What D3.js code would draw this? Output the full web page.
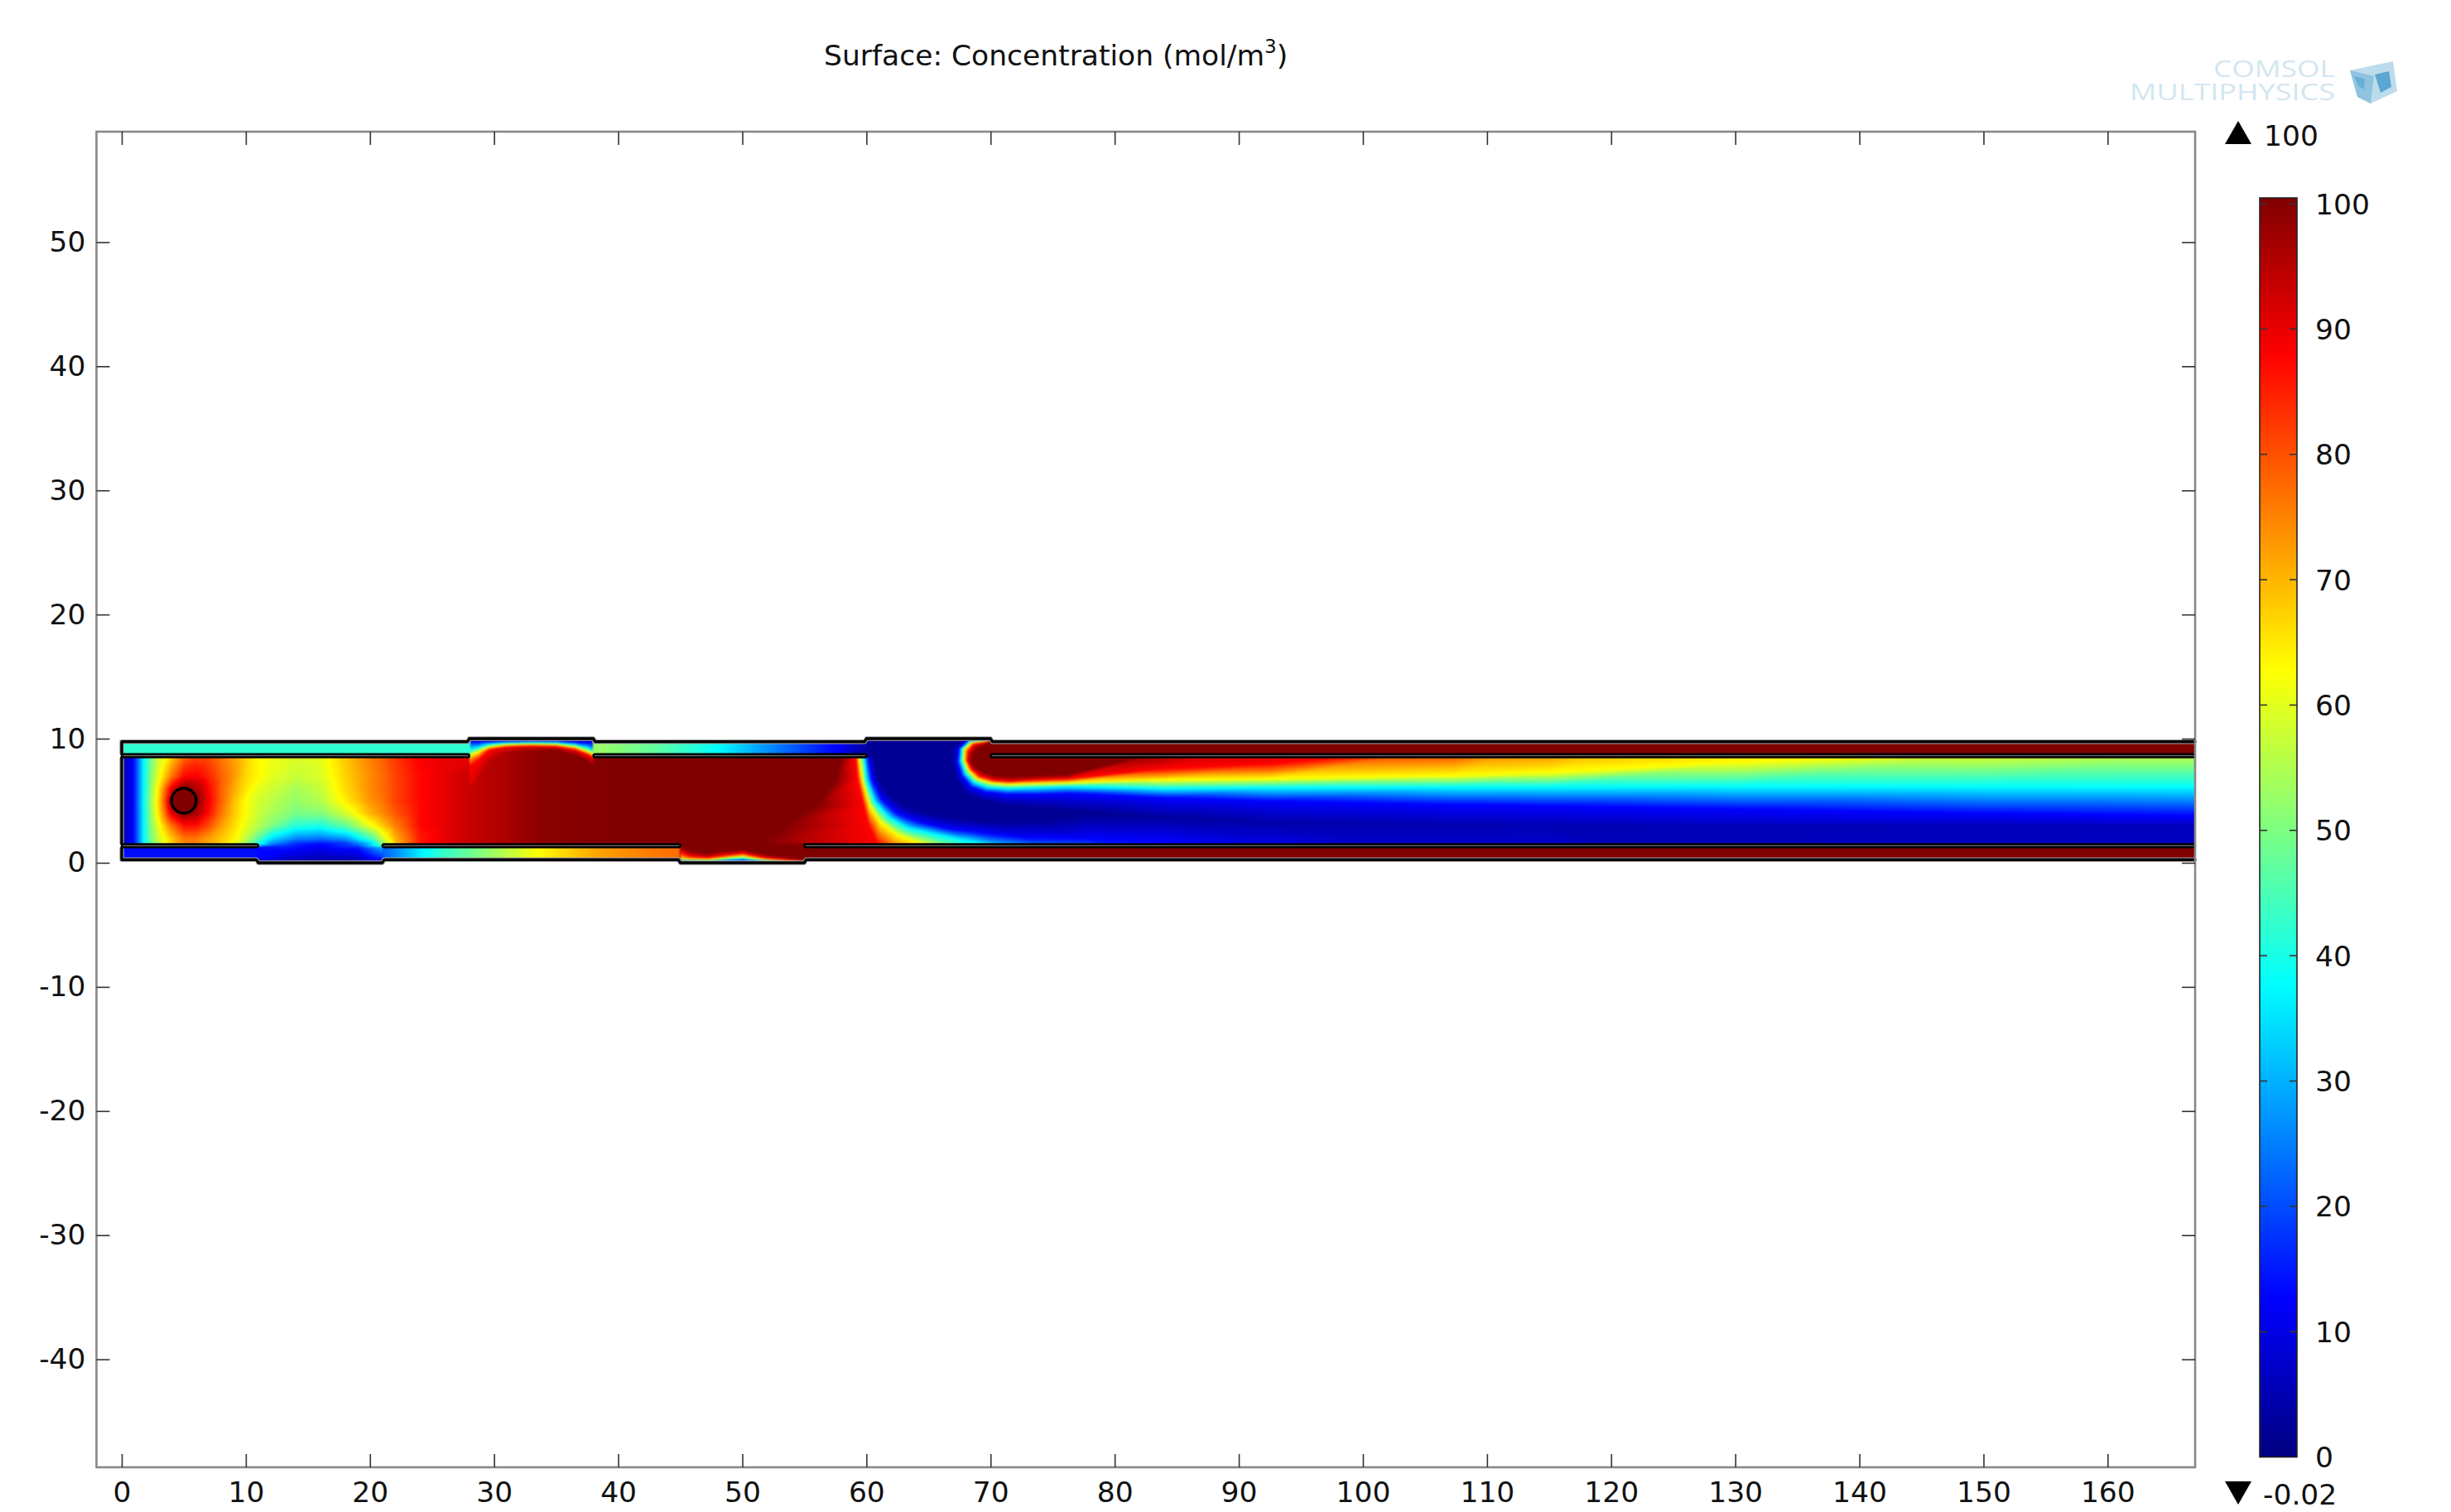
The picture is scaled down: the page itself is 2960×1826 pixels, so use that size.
<!DOCTYPE html>
<html><head><meta charset="utf-8">
<script src="https://cdn.jsdelivr.net/npm/d3@7"></script>
<style>html,body{margin:0;background:#fff}svg{display:block}text{font-family:"DejaVu Sans";fill:#111}</style>
</head><body><svg id="c" width="2960" height="1826"></svg>
<script>
// ---------- axis data ----------
const xTicks = d3.range(0, 161, 10);
const yTicks = d3.range(-40, 51, 10);
const barTicks = d3.range(0, 101, 10);
const titleText = "Surface: Concentration (mol/m";
const maxLabel = "100", minLabel = "-0.02";
// jet colour table
const jetStops = [0, 12.5, 37.5, 62.5, 87.5, 100];
const jetColors = ["#000080", "#0000ff", "#00ffff", "#ffff00", "#ff0000", "#800000"];

// ---------- field: left of main channel (values read at columns / rows) ----------
const leftCols = [0, .9, 1.75, 2.5, 3, 3.5, 4, 5, 6, 7, 8, 9, 10, 11, 12, 14, 16, 18, 20, 21, 22, 24, 26, 28, 30, 34, 40, 46, 52, 59.5];
const leftRows = [10.1, 8.5, 7, 6, 5, 4, 3, 2, 1.5];
const leftValues = [
 [4,12.5,37.5,52,58,62.5,68,78,81,80,76,72,67,63,61,59,60,68,75,78,82,88,90,90,95,99,100,100,100,100],
 [4,12.5,37.5,52,58,62.5,68,78,81,80,76,72,67,63,61,59,60,68,75,78,82,88,90,90,95,99,100,100,100,100],
 [4,12.5,37.5,54,61,69,76,87,88,84,78,73,66,63,60,57,59,67,74,77,81,87,90,93,95,99,100,100,100,100],
 [4,12.5,37.5,56,66,78,90,100,96,87,78,71,65,60,58,54,57,66,74,77,81,87,90,93,95,99,100,100,100,100],
 [4,12.5,38,57,68,82,100,100,100,88,78,69,62,58,56,52,55,64,73,76,81,87,90,93,95,99,100,100,100,100],
 [4,12.5,37.5,56,66,78,90,100,96,86,76,68,62,57,54,49,50,58,70,74,79,87,90,93,95,99,100,100,100,100],
 [4,12.5,37.5,54,61,69,76,86,86,80,72,66,60,55,50,41,40,47,61,68,75,87,90,93,95,99,100,100,100,100],
 [4,12.5,37.5,52,58,63,68,76,76,72,68,64,56,46,35,26,24,28,44,58,70,85,90,93,95,99,100,100,100,100],
 [4,12.5,37.5,51,57,62.5,67,74,74,71,66,61,52,38,25,15,12,15,30,50,68,86,90,93,95,99,100,100,100,100]
];
// lower gap 11..21
const gapACols = [11, 13, 16, 19, 21];
const gapARows = [1.5, 1.25, 1, .5, 0];
const gapAValues = [[38,20,12,22,50],[13,15,11,15,30],[13,12,10,12,26],[13,9,6,7,18],[8,3,2,3,5]];
// channels
const topLeftValue = 42, bottomLeftValue = 13.5, saturated = 100, darkCore = 2;
const topMidCols = [38, 43, 48, 53, 57.7, 60];
const topMidValues = [53, 47, 37.5, 24, 12, 3];
const bottomMidCols = [21, 22, 24.4, 26, 28, 33.5, 38, 42, 45];
const bottomMidValues = [22, 26, 37.5, 43, 48, 62.5, 71, 75, 77];

// iso-level meshes: rows of stations, each station lists the y of every level
const bumpLevels = [98, 87.5, 62.5, 37.5, 12.5, 3];
const bumpCols = [28, 28.7, 29.6, 31, 33, 35, 36.5, 37.5, 38];
const bumpBase = [90, 92, 94, 96, 98, 100, 100, 100, 100];
const bumpY = [
 [6.2,7.8,8.7,9.1,9.75,10.05],
 [7.0,8.3,8.96,9.3,9.75,10.05],
 [8.2,9.13,9.36,9.58,9.8,10.05],
 [8.9,9.36,9.53,9.69,9.84,10.05],
 [9.1,9.44,9.58,9.72,9.88,10.05],
 [9.1,9.4,9.55,9.7,9.85,10.05],
 [8.7,9.15,9.35,9.55,9.75,10.05],
 [8.2,8.75,9.0,9.3,9.7,10.05],
 [7.8,8.5,8.75,9.0,9.7,10.05]
];
const gapBLevels = [100, 87.5, 62.5, 37.5, 12.5, 2];
const gapBCols = [45, 45.8, 47.3, 48.5, 50, 51.8, 54.3, 55];
const gapBBase = [100, 100, 100, 100, 100, 100, 100, 100];
const gapBY = [
 [1.3,.9,.35,.25,.15,-.2],
 [1.0,.55,.28,.2,.1,-.2],
 [.75,.45,.28,.15,.05,-.2],
 [1.0,.62,.4,.28,.12,-.2],
 [1.1,.8,.55,.36,.2,-.1],
 [.7,.42,.28,.18,.08,-.2],
 [.4,.2,.12,.05,-.05,-.2],
 [.3,.12,.05,-.02,-.1,-.2]
];
// fronts: levels 100, 87.5, 62.5, 37.5, 12.5, core
const frontLevels = [100, 87.5, 62.5, 37.5, 12.5];
const upperFront = [
 [[69.87,9.69],[69.76,9.80],[69.87,9.89],[69.76,9.93],[69.54,9.98],[69.31,10.02]],
 [[69.09,9.36],[68.65,9.58],[68.42,9.73],[68.31,9.84],[68.2,9.91],[67.76,9.98]],
 [[68.54,8.8],[68.2,9.02],[67.87,9.13],[67.65,9.24],[67.43,9.24],[66.98,9.24]],
 [[68.42,8.25],[68.09,8.25],[67.87,8.25],[67.58,8.25],[67.31,8.13],[66.87,8.13]],
 [[68.76,7.69],[68.42,7.58],[68.2,7.47],[67.94,7.24],[67.65,7.02],[67.2,6.69]],
 [[69.54,7.24],[69.09,7.02],[68.87,6.8],[68.65,6.51],[68.42,6.13],[67.98,5.58]],
 [[70.43,7.02],[70.2,6.69],[69.98,6.47],[69.76,6.13],[69.54,5.73],[69.31,5.02]],
 [[71.76,6.96],[71.54,6.58],[71.31,6.36],[71.31,6.02],[71.31,5.53],[71.31,4.64]],
 [[73.31,7.02],[73.31,6.69],[73.09,6.4],[73.31,6.09],[73.54,5.53],[73.54,4.47]],
 [[76.2,7.13],[76.2,6.8],[76.2,6.47],[76.2,6.18],[76.2,5.62],[76.2,4.25]],
 [[84,9],[84,7.6],[84,6.7],[84,6],[84,5.25],[84,3.7]],
 [[92.5,10.5],[92.5,8],[92.5,6.8],[92.5,6.08],[92.5,5],[92.5,3.3]],
 [[107.3,13],[107.3,9.38],[107.3,7.06],[107.3,6.13],[107.3,4.7],[107.3,3]],
 [[115,14],[115,10.5],[115,7.3],[115,6.15],[115,4.6],[115,3]],
 [[130,16],[130,12.5],[130,8.13],[130,6.17],[130,4.35],[130,3]],
 [[150,18],[150,14],[150,9],[150,6.15],[150,4],[150,3]],
 [[168,20],[168,15],[168,9.5],[168,6.13],[168,3.8],[168,3]]
];
const upperCore = [2,2,2,2,2,2,2,2,2,2,3,4,4.5,5,6,6,6];
const lowerFront = [
 [[58,8.58],[59.09,8.58],[59.36,8.58],[59.76,8.58],[60.09,8.58],[60.54,8.58]],
 [[57.5,6.69],[59.27,6.69],[59.65,6.69],[59.98,6.69],[60.43,6.69],[60.98,6.69]],
 [[56,4.69],[59.76,4.58],[60.2,4.69],[60.65,4.91],[61.2,5.13],[61.87,5.47]],
 [[53.5,3.13],[60.2,2.91],[61.09,3.31],[61.76,3.69],[62.43,4.02],[63.09,4.58]],
 [[51.5,1.53],[60.87,1.53],[62.43,2.29],[63.31,2.8],[64.2,3.31],[64.98,4.02]],
 [[50.5,.7],[61.76,.7],[64.31,1.58],[65.31,2.36],[66.43,2.8],[67.31,3.58]],
 [[50,-.2],[63.31,-.2],[66.65,.7],[67.76,1.84],[68.87,2.51],[69.76,3.36]],
 [[50,-3],[62,-3],[66,-2],[71.31,1.13],[72.65,2.07],[73.3,3.36]],
 [[54,-4],[64,-4],[70,-3],[76,.6],[78,1.95],[78,3.9]],
 [[56,-6],[70,-6],[78,-5],[84,-.8],[84,1.7],[84,3.7]],
 [[60,-8],[80,-8],[88,-7],[92.5,-3],[92.5,.9],[92.5,3.3]],
 [[70,-10],[100,-10],[110,-9],[115,-6],[115,-1],[115,3]],
 [[168,-16],[168,-16],[168,-15],[168,-14],[168,-12],[168,3]]
];
const lowerCore = [2,2,2,2,2,2,2,2,2,3,4,5,6];

// ---------- device geometry (model units) ----------
const boundary = [[0,.25],[11,.25],[11,0],[21,0],[21,.25],[45,.25],[45,0],[55,0],[55,.25],[167.05,.25],[167.05,9.75],[70,9.75],[70,10],[60,10],[60,9.75],[38,9.75],[38,10],[28,10],[28,9.75],[0,9.75]];
const bottomWall = [[0,1.25],[0,.25],[10.85,.25],[11,0],[21,0],[21.15,.25],[44.85,.25],[45,0],[55,0],[55.15,.25],[167.05,.25]];
const topWall = [[0,8.75],[0,9.75],[27.85,9.75],[28,10],[38,10],[38.15,9.75],[59.85,9.75],[60,10],[70,10],[70.15,9.75],[167.05,9.75]];
const leftWall = [[0,1.5],[0,8.5]];
const membranes = [[0,28,8.5,8.75],[38,60,8.5,8.75],[70,168,8.5,8.75],[0,11,1.25,1.5],[21,45,1.25,1.5],[55,168,1.25,1.5]];
const cylinder = {cx:5, cy:5, r:1};

// ---------- layout ----------
const x = d3.scaleLinear().domain([-2.035, 167.05]).range([116.5, 2651]);
const y = d3.scaleLinear().domain([58.9, -48.7]).range([159, 1772]);
const barScale = d3.scaleLinear().domain([0, 100]).range([1759.6, 246]);
const jet = d3.scaleLinear().domain(jetStops).range(jetColors).clamp(true);
const fontSize = 34.5;

const W = 2960, H = 1826;
const cv = document.createElement("canvas"); cv.width = W; cv.height = H;
const cx = cv.getContext("2d");
const img = cx.createImageData(W, H), px = img.data;
const lut = d3.range(0, 1001).map(i => d3.rgb(jet(i / 10)));

function setPx(ix, iy, v) {
  const c = lut[Math.max(0, Math.min(1000, Math.round(v * 10)))], k = (iy * W + ix) * 4;
  px[k] = c.r; px[k + 1] = c.g; px[k + 2] = c.b; px[k + 3] = 255;
}
function tri(a, b, c, clip) {
  const minX = Math.max(Math.floor(Math.min(a[0], b[0], c[0])), clip[0]), maxX = Math.min(Math.ceil(Math.max(a[0], b[0], c[0])), clip[1]);
  const minY = Math.max(Math.floor(Math.min(a[1], b[1], c[1])), clip[2]), maxY = Math.min(Math.ceil(Math.max(a[1], b[1], c[1])), clip[3]);
  const d = (b[1] - c[1]) * (a[0] - c[0]) + (c[0] - b[0]) * (a[1] - c[1]);
  if (Math.abs(d) < 1e-6) return;
  for (let iy = minY; iy <= maxY; iy++) for (let ix = minX; ix <= maxX; ix++) {
    const l1 = ((b[1] - c[1]) * (ix - c[0]) + (c[0] - b[0]) * (iy - c[1])) / d;
    const l2 = ((c[1] - a[1]) * (ix - c[0]) + (a[0] - c[0]) * (iy - c[1])) / d;
    const l3 = 1 - l1 - l2;
    if (l1 < -.02 || l2 < -.02 || l3 < -.02) continue;
    setPx(ix, iy, l1 * a[2] + l2 * b[2] + l3 * c[2]);
  }
}
// nodes[i][j] = [modelX, modelY, value]
function paintMesh(nodes, box) {
  const clip = [Math.round(x(box[0])), Math.round(x(box[1])), Math.round(y(box[3])), Math.round(y(box[2]))];
  const P = nodes.map(r => r.map(n => [x(n[0]), y(n[1]), n[2]]));
  for (let i = 0; i < P.length - 1; i++) for (let j = 0; j < P[i].length - 1; j++) {
    tri(P[i][j], P[i + 1][j], P[i][j + 1], clip);
    tri(P[i + 1][j], P[i + 1][j + 1], P[i][j + 1], clip);
  }
}
const grid = (cols, rows, vals) => rows.map((r, j) => cols.map((c, i) => [c, r, vals[j][i]]));
const rectMesh = (x0, x1, y0, y1, v) => grid([x0, x1], [y0, y1], [[v, v], [v, v]]);
const stripMesh = (cols, y0, y1, vals) => grid(cols, [y0, y1], [vals, vals]);
const levelMesh = (cols, ys, levels, base) => ys.map((r, i) => r.map((yy, j) => [cols[i], yy, j === 0 ? base[i] : levels[j]]));
const frontMesh = (st, core) => st.map((r, i) => r.map((n, j) => [n[0], n[1], j < frontLevels.length ? frontLevels[j] : core[i]]));

const all = [-5, 170, -5, 25];
paintMesh(rectMesh(55, 168, 1.5, 10, darkCore), all);
paintMesh(grid(leftCols, leftRows, leftValues), [-5, 59.5, 1.5, 10.1]);
paintMesh(rectMesh(68.5, 90, 7, 10.1, saturated), all);
paintMesh(frontMesh(upperFront, upperCore), [60, 168, 1.5, 10.1]);
paintMesh(frontMesh(lowerFront, lowerCore), [50, 168, 1.5, 8.5]);
paintMesh(levelMesh(bumpCols, bumpY, bumpLevels, bumpBase), [28, 38, 1.5, 10.1]);
paintMesh(rectMesh(0, 28, 8.6, 9.9, topLeftValue), all);
paintMesh(stripMesh(topMidCols, 8.6, 9.9, topMidValues), all);
paintMesh(rectMesh(70, 168, 8.6, 9.9, saturated), all);
paintMesh(rectMesh(0, 11, 0, 1.4, bottomLeftValue), all);
paintMesh(grid(gapACols, gapARows, gapAValues), all);
paintMesh(stripMesh(bottomMidCols, 0, 1.4, bottomMidValues), [21, 45, 0, 1.4]);
paintMesh(rectMesh(45, 55, 0, 1.55, saturated), all);
paintMesh(levelMesh(gapBCols, gapBY, gapBLevels, gapBBase), [45, 55, -.1, 1.55]);
paintMesh(rectMesh(55, 168, 0, 1.4, saturated), all);
cx.putImageData(img, 0, 0);
const cv2 = document.createElement("canvas"); cv2.width = W; cv2.height = H;
const c2 = cv2.getContext("2d"); c2.filter = "blur(0.9px)"; c2.drawImage(cv, 0, 0);

// ---------- svg ----------
const svg = d3.select("#c");
const defs = svg.append("defs");
const toPts = d => d.map(p => [x(p[0]), y(p[1])]);
const line = d3.line();
defs.append("clipPath").attr("id", "shape").append("path").attr("d", line(toPts(boundary)) + "Z");
svg.append("rect").attr("width", W).attr("height", H).attr("fill", "#fff");
svg.append("image").attr("href", cv2.toDataURL()).attr("width", W).attr("height", H).attr("clip-path", "url(#shape)");

// walls
for (const w of [bottomWall, topWall, leftWall]) {
  svg.append("path").attr("d", line(toPts(w))).attr("fill", "none").attr("stroke", "#aaa").attr("stroke-width", 5.5).attr("stroke-linejoin", "round");
  svg.append("path").attr("d", line(toPts(w))).attr("fill", "none").attr("stroke", "#000").attr("stroke-width", 3.4).attr("stroke-linejoin", "round").attr("stroke-linecap", "round");
}
svg.selectAll(".mem").data(membranes).join("rect").attr("class", "mem")
  .attr("x", d => x(d[0])).attr("width", d => Math.min(x(d[1]), 2651) - x(d[0]))
  .attr("y", d => y(d[3])).attr("height", d => y(d[2]) - y(d[3]))
  .attr("rx", 2).attr("fill", "#6a6a6a").attr("stroke", "#000").attr("stroke-width", 2.4);
svg.append("ellipse").attr("cx", x(cylinder.cx)).attr("cy", y(cylinder.cy))
  .attr("rx", x(cylinder.r) - x(0)).attr("ry", y(0) - y(cylinder.r))
  .attr("fill", "#800000").attr("stroke", "#000").attr("stroke-width", 3.4);

// frame + axes
svg.append("rect").attr("x", x.range()[0]).attr("y", y.range()[0]).attr("width", x.range()[1] - x.range()[0]).attr("height", y.range()[1] - y.range()[0])
  .attr("fill", "none").attr("stroke", "#888").attr("stroke-width", 2.6);
const fmt = d => String(d);
function styleAxis(g) {
  g.select(".domain").remove();
  g.selectAll("line").attr("stroke", "#333").attr("stroke-width", 1.6);
  g.selectAll("text").attr("font-size", fontSize).attr("font-family", '"DejaVu Sans"').attr("fill", "#111");
}
svg.append("g").attr("transform", `translate(0,${y.range()[1]})`).call(d3.axisBottom(x).tickValues(xTicks).tickFormat(fmt).tickSize(-16).tickPadding(18)).call(styleAxis);
svg.append("g").attr("transform", `translate(0,${y.range()[0]})`).call(d3.axisTop(x).tickValues(xTicks).tickFormat("").tickSize(-16)).call(styleAxis);
svg.append("g").attr("transform", `translate(${x.range()[0]},0)`).call(d3.axisLeft(y).tickValues(yTicks).tickFormat(fmt).tickSize(-16).tickPadding(13)).call(styleAxis);
svg.append("g").attr("transform", `translate(${x.range()[1]},0)`).call(d3.axisRight(y).tickValues(yTicks).tickFormat("").tickSize(-16)).call(styleAxis);

// title
const t = svg.append("text").attr("x", 995).attr("y", 79).attr("font-size", fontSize);
t.append("tspan").text(titleText);
t.append("tspan").attr("font-size", 23).attr("dy", -15).text("3");
t.append("tspan").attr("dy", 15).text(")");

// colour bar
const grad = defs.append("linearGradient").attr("id", "jetBar").attr("x1", 0).attr("x2", 0).attr("y1", 1).attr("y2", 0);
grad.selectAll("stop").data(jetStops).join("stop").attr("offset", d => d / 100).attr("stop-color", d => jet(d));
const barTop = 239, barLeft = 2729, barRight = 2774;
svg.append("rect").attr("x", barLeft).attr("y", barTop).attr("width", barRight - barLeft).attr("height", barScale(0) - barTop)
  .attr("fill", "url(#jetBar)").attr("stroke", "#222").attr("stroke-width", 1.6);
const bt = svg.append("g").selectAll("g").data(barTicks).join("g");
bt.filter(d => d > 0).append("line").attr("x1", barLeft).attr("x2", barLeft + 9).attr("y1", barScale).attr("y2", barScale).attr("stroke", "#333").attr("stroke-width", 1.6);
bt.filter(d => d > 0).append("line").attr("x1", barRight - 9).attr("x2", barRight).attr("y1", barScale).attr("y2", barScale).attr("stroke", "#333").attr("stroke-width", 1.6);
bt.append("text").attr("x", 2796).attr("y", d => barScale(d) + 12.5).attr("font-size", fontSize).text(d => d);

// max / min markers
svg.append("path").attr("d", "M2703,146L2719,174L2687,174Z").attr("fill", "#000");
svg.append("text").attr("x", 2734).attr("y", 176).attr("font-size", fontSize).text(maxLabel);
svg.append("path").attr("d", "M2687,1789L2719,1789L2703,1817Z").attr("fill", "#000");
svg.append("text").attr("x", 2733).attr("y", 1817).attr("font-size", fontSize).text(minLabel);

// logo
const logoStyle = s => s.attr("font-size", 27).attr("lengthAdjust", "spacingAndGlyphs").style("fill", "#d3e6ef").style("font-family", "Open Sans");
svg.append("text").attr("x", 2673).attr("y", 93).attr("textLength", 147).call(logoStyle).text("COMSOL");
svg.append("text").attr("x", 2572).attr("y", 121).attr("textLength", 248).call(logoStyle).text("MULTIPHYSICS");
const cube = svg.append("g");
cube.append("path").attr("d", "M2838,85L2890,74L2895,110L2863,125L2847,117Z").attr("fill", "#bcdcec");
cube.append("path").attr("d", "M2838,85L2867,92L2863,125L2847,117Z").attr("fill", "#8fc3e0");
cube.append("path").attr("d", "M2868,90L2885,86L2888,105L2875,112Z").attr("fill", "#5ba6d2");
cube.append("path").attr("d", "M2843,92L2856,95L2855,108L2848,104Z").attr("fill", "#5ba6d2").attr("opacity", .7);
</script></body></html>
